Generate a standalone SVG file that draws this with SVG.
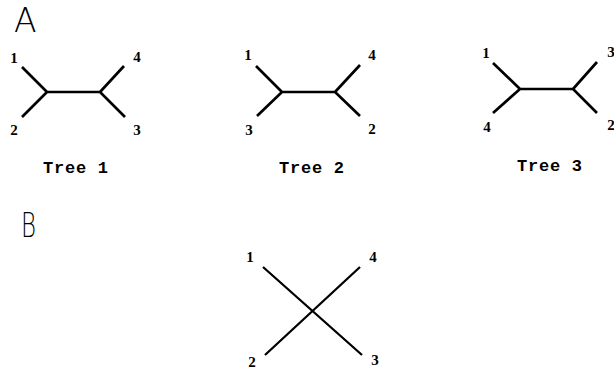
<svg xmlns="http://www.w3.org/2000/svg" width="614" height="377" viewBox="0 0 614 377">
<style>
.e{stroke:#000;stroke-width:2.7;stroke-linecap:butt;fill:none}
.x{stroke:#000;stroke-width:2.3;fill:none}
.n{font-family:"Liberation Serif",serif;font-weight:bold;font-size:15px;fill:#000;text-anchor:middle}
.t{font-family:"Liberation Mono",monospace;font-weight:bold;font-size:17px;fill:#000}
.p{font-family:"DejaVu Sans",sans-serif;font-weight:200;font-size:33px;fill:#000}
</style>
<rect width="614" height="377" fill="#fff"/>
<text class="p" x="14" y="32">A</text>
<text class="p" x="21" y="237" textLength="15" lengthAdjust="spacingAndGlyphs">B</text>
<g id="connectors">
<path class="e" d="M22,67 L47,92 L22,117 M47,92 L100,92 M124,66 L100,92 L125,117"/>
<path class="e" d="M256,66 L282,92 L257,116 M282,92 L335,92 M360,65 L335,92 L360,116"/>
<path class="e" d="M493,63 L520,89 L493,113 M520,89 L573,89 M597,62 L573,89 L597,113"/>
<path class="x" d="M263,267 L362,355 M360,267 L265,355"/>
</g>
<g id="tree1">
<text class="n" x="14" y="63">1</text>
<text class="n" x="137" y="62">4</text>
<text class="n" x="14" y="135">2</text>
<text class="n" x="137" y="135">3</text>
<text class="t" x="43" y="173" textLength="65" lengthAdjust="spacing">Tree 1</text>
</g>
<g id="tree2">
<text class="n" x="248" y="60">1</text>
<text class="n" x="372" y="60">4</text>
<text class="n" x="249" y="135">3</text>
<text class="n" x="372" y="134">2</text>
<text class="t" x="279" y="173" textLength="65" lengthAdjust="spacing">Tree 2</text>
</g>
<g id="tree3">
<text class="n" x="486" y="58">1</text>
<text class="n" x="611" y="57">3</text>
<text class="n" x="487" y="132">4</text>
<text class="n" x="611" y="130">2</text>
<text class="t" x="517" y="171" textLength="65" lengthAdjust="spacing">Tree 3</text>
</g>
<g id="treeB">
<text class="n" x="250" y="262">1</text>
<text class="n" x="373" y="262">4</text>
<text class="n" x="252" y="367">2</text>
<text class="n" x="375" y="365">3</text>
</g>
</svg>
